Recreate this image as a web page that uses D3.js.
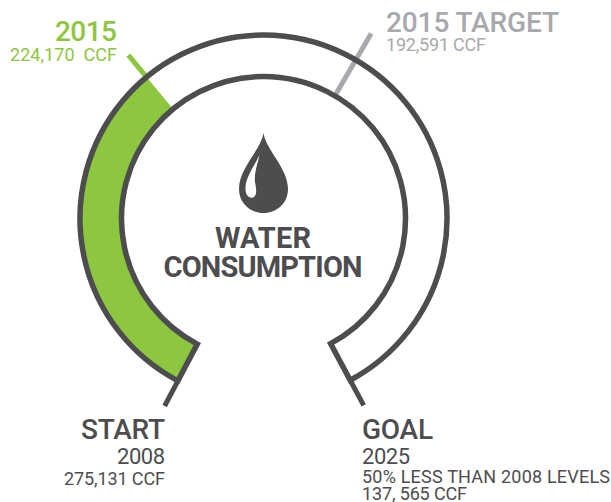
<!DOCTYPE html>
<html><head><meta charset="utf-8">
<script src="https://cdn.jsdelivr.net/npm/d3@7"></script>
<style>html,body{margin:0;background:#fff}svg{display:block}text{font-family:Roboto,sans-serif}</style>
</head><body><svg id="c" width="611" height="502"></svg>
<script>
const startValue=275131, goalValue=137565, currentValue=224170, targetValue=192591;
const markerValues=[startValue,currentValue,targetValue,goalValue];
const markerColors=["#4d4d4f","#8dc63f","#a7a9ac","#4d4d4f"];
const titleLines=["WATER","CONSUMPTION"];
const labels=[
 ["2015",117,41,28,"end","#8dc63f",500,62],
 ["224,170  CCF",117,61,18,"end","#8dc63f",400,107],
 ["2015 TARGET",386,32,28,"start","#a7a9ac",500,173],
 ["192,591 CCF",386,51,18,"start","#a7a9ac",400,100],
 ["START",165,439,28,"end","#4d4d4f",500,84],
 ["2008",165,464,22,"end","#4d4d4f",400,48],
 ["275,131 CCF",165,485,18,"end","#4d4d4f",400,101],
 ["GOAL",362,439,28,"start","#4d4d4f",500,71],
 ["2025",362,464,22,"start","#4d4d4f",400,48],
 ["50% LESS THAN 2008 LEVELS",362,483,18,"start","#4d4d4f",400,248],
 ["137, 565 CCF",362,500,18,"start","#4d4d4f",400,105]
];
const svg=d3.select("#c"), cx=263.5, cy=218.5, rO=183.5, rI=142, sw=5.5;
const angle=d3.scaleLinear().domain([startValue,goalValue]).range([-152.2,151.8].map(d=>d*Math.PI/180));
const g=svg.append("g").attr("transform",`translate(${cx},${cy})`);
const arc=d3.arc().innerRadius(rI).outerRadius(rO);
const pt=(v,r)=>{const a=angle(v);return [r*Math.sin(a),-r*Math.cos(a)]};
g.append("path").attr("d",arc({startAngle:angle(startValue),endAngle:angle(currentValue)})).attr("fill","#8dc63f");
const tickEnd=d=>d===targetValue?214:212;
const tickStart=d=>d===targetValue?rI:rO;
g.selectAll("line.t").data(markerValues).join("line")
 .attr("x1",d=>pt(d,tickStart(d))[0]).attr("y1",d=>pt(d,tickStart(d))[1])
 .attr("x2",d=>pt(d,tickEnd(d))[0]).attr("y2",d=>pt(d,tickEnd(d))[1])
 .attr("stroke",(d,i)=>markerColors[i]).attr("stroke-width",5);
g.append("path").attr("d",arc({startAngle:angle(startValue),endAngle:angle(goalValue)}))
 .attr("fill","none").attr("stroke","#4d4d4f").attr("stroke-width",sw).attr("stroke-linejoin","miter");
const drop=d3.path();
drop.moveTo(263.5,133);
drop.bezierCurveTo(266,150,288,168,288,189);
drop.bezierCurveTo(288,203,277,213,263.5,213);
drop.bezierCurveTo(250,213,239,203,239,189);
drop.bezierCurveTo(239,168,261,150,263.5,133);
drop.closePath();
svg.append("path").attr("d",drop.toString()).attr("fill","#4d4d4f");
const hi=d3.path();
hi.moveTo(259.5,155);
hi.bezierCurveTo(252,170,245,178,245.5,190);
hi.bezierCurveTo(246,197,251,199,254,197);
hi.bezierCurveTo(257.5,194,256,188,255,182);
hi.bezierCurveTo(254,174,257,166,259.5,155);
hi.closePath();
svg.append("path").attr("d",hi.toString()).attr("fill","#fff");
svg.selectAll("text.t").data(titleLines).join("text")
 .attr("x",263).attr("y",(d,i)=>248+i*29).attr("text-anchor","middle")
 .attr("font-size",29).attr("font-weight",700).attr("fill","#4d4d4f")
 .attr("textLength",(d,i)=>i?199:96).text(d=>d);
svg.selectAll("text.l").data(labels).join("text")
 .attr("x",d=>d[1]).attr("y",d=>d[2]).attr("font-size",d=>d[3]).attr("text-anchor",d=>d[4])
 .attr("fill",d=>d[5]).attr("font-weight",d=>d[6]).attr("textLength",d=>d[7]).attr("xml:space","preserve").text(d=>d[0]);
</script></body></html>
